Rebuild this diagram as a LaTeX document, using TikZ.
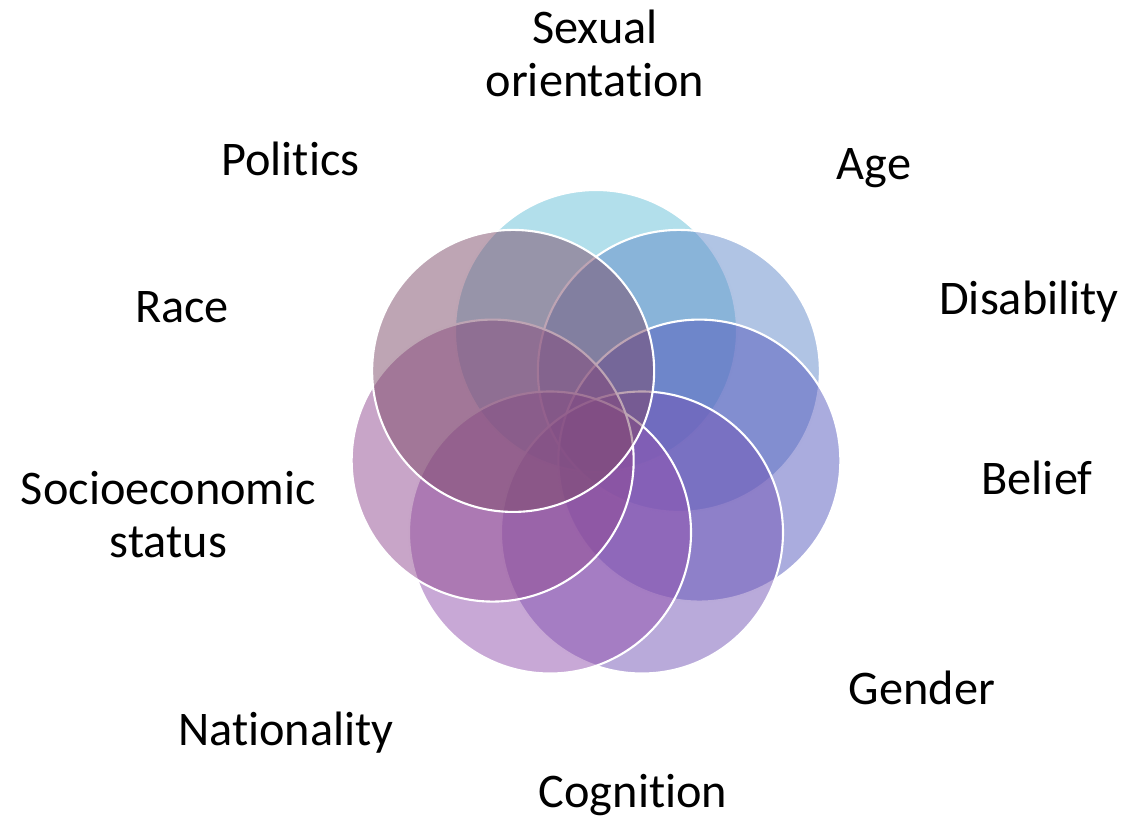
\documentclass[tikz,border=0pt]{standalone}
\usepackage{fontspec}
\setmainfont{Carlito}[Ligatures={NoCommon,NoContextual}]
\usepackage{tikz}

\definecolor{petalA}{RGB}{101,191,215}
\definecolor{petalB}{RGB}{97,137,201}
\definecolor{petalC}{RGB}{85,89,189}
\definecolor{petalD}{RGB}{115,85,181}
\definecolor{petalE}{RGB}{145,81,173}
\definecolor{petalF}{RGB}{145,75,145}
\definecolor{petalG}{RGB}{125,75,105}

\tikzset{
    petal/.style={draw=white,line width=0.6pt,fill opacity=0.5},
    lbl/.style={anchor=base,align=center,inner sep=0pt,font=\fontsize{13.74}{15}\selectfont}
}

\begin{document}
\begin{tikzpicture}
                \useasboundingbox (0,0) rectangle (11.40,-8.17);
                \coordinate (ctr) at (5.96,-4.37);
                \filldraw[petal,fill=petalA] (ctr) ++(90:1.06) circle (1.41);
                \filldraw[petal,fill=petalB] (ctr) ++(38.571:1.06) circle (1.41);
                \filldraw[petal,fill=petalC] (ctr) ++(-12.857:1.06) circle (1.41);
                \filldraw[petal,fill=petalD] (ctr) ++(-64.286:1.06) circle (1.41);
                \filldraw[petal,fill=petalE] (ctr) ++(-115.714:1.06) circle (1.41);
                \filldraw[petal,fill=petalF] (ctr) ++(-167.143:1.06) circle (1.41);
                \filldraw[petal,fill=petalG] (ctr) ++(141.429:1.06) circle (1.41);
                \node[lbl] (sexual) at (5.95,-0.96) {Sexual\\orientation};
                \node[lbl] (age) at (8.74,-1.79) {Age};
                \node[lbl] (disability) at (10.29,-3.14) {Disability};
                \node[lbl] (belief) at (10.37,-4.94) {Belief};
                \node[lbl] (gender) at (9.22,-7.04) {Gender};
                \node[lbl] (cognition) at (6.33,-8.07) {Cognition};
                \node[lbl] (nationality) at (2.86,-7.45) {Nationality};
                \node[lbl] (socio) at (1.685,-5.57) {Socioeconomic\\status};
                \node[lbl] (race) at (1.82,-3.22) {Race};
                \node[lbl] (politics) at (2.905,-1.75) {Politics};
            \end{tikzpicture}
\end{document}
